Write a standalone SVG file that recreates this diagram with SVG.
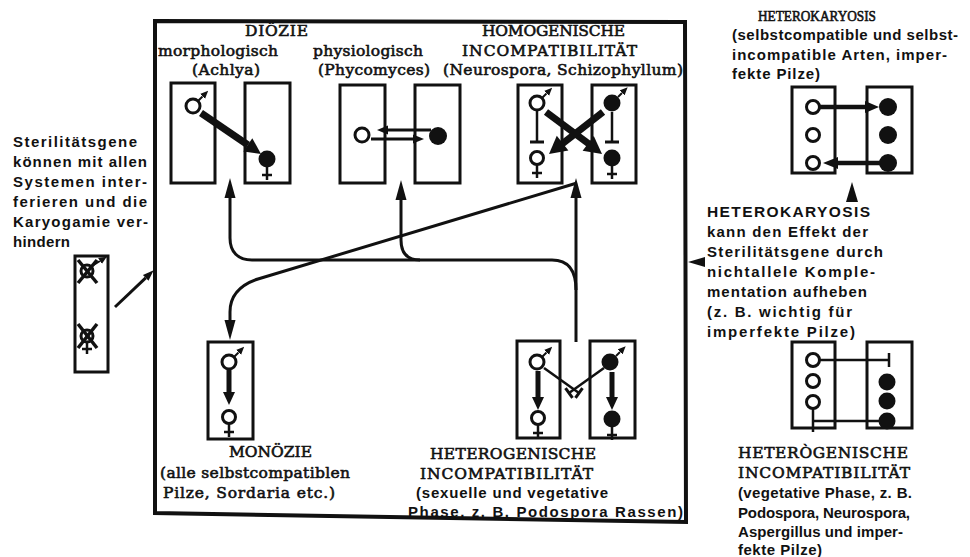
<svg xmlns="http://www.w3.org/2000/svg" width="970" height="557" viewBox="0 0 970 557">
  <style>
    .bg { fill: #ffffff; }
    .frame { fill: none; stroke: #111; stroke-width: 4; stroke-linejoin: miter; }
    .box { fill: none; stroke: #111; stroke-width: 3; }
    .ln { fill: none; stroke: #111; stroke-width: 3; stroke-linecap: butt; }
    .thin { fill: none; stroke: #111; stroke-width: 2.5; }
    .thick { fill: none; stroke: #111; stroke-width: 7; }
    .mid { fill: none; stroke: #111; stroke-width: 5; }
    .head { fill: #111; stroke: none; }
    .ring { fill: #fff; stroke: #111; stroke-width: 3; }
    .dot { fill: #111; stroke: none; }
    .conn { fill: none; stroke: #111; stroke-width: 3; stroke-linejoin: round; }
    .serif { font-family: "DejaVu Serif", "Liberation Serif", serif; font-size: 15.5px; fill: #111; stroke: #111; stroke-width: 0.6px; }
    .title-s { font-family: "Liberation Serif", "DejaVu Serif", serif; font-size: 15.5px; fill: #111; stroke: #111; stroke-width: 0.6px; }
    .type { font-family: "Liberation Sans", "DejaVu Sans", sans-serif; font-weight: bold; font-size: 15px; fill: #111; }
  </style>
  <defs>
    <!-- long connector arrowhead, drawn past the path end -->
    <marker id="ah" viewBox="0 -6 20 12" markerWidth="20" markerHeight="12" refX="0" refY="0" orient="auto" markerUnits="userSpaceOnUse">
      <path d="M0 -5.5 L20 0 L0 5.5 Z" fill="#111"/>
    </marker>
    <!-- small arrowhead for the mating-type symbols -->
    <marker id="ms" viewBox="0 -4 8 8" markerWidth="8" markerHeight="8" refX="0" refY="0" orient="auto" markerUnits="userSpaceOnUse">
      <path d="M0 -3.5 L8 0 L0 3.5 Z" fill="#111"/>
    </marker>
    <marker id="sm" viewBox="0 -5 11 10" markerWidth="11" markerHeight="10" refX="0" refY="0" orient="auto" markerUnits="userSpaceOnUse">
      <path d="M0 -4 L11 0 L0 4 Z" fill="#111"/>
    </marker>
    <!-- male, open -->
    <g id="mO">
      <line x1="5" y1="-5" x2="9.5" y2="-9.5" stroke="#111" stroke-width="2" marker-end="url(#ms)"/>
      <circle r="7" class="ring"/>
    </g>
    <!-- male, filled -->
    <g id="mF">
      <line x1="6" y1="-6" x2="10" y2="-10" stroke="#111" stroke-width="2" marker-end="url(#ms)"/>
      <circle r="8.5" class="dot"/>
    </g>
    <!-- female, open -->
    <g id="fO">
      <line x1="0" y1="6" x2="0" y2="20" stroke="#111" stroke-width="2.5"/>
      <line x1="-5" y1="15" x2="5" y2="15" stroke="#111" stroke-width="2.5"/>
      <circle r="6.5" class="ring"/>
    </g>
    <!-- female, filled -->
    <g id="fF">
      <line x1="0" y1="7" x2="0" y2="21" stroke="#111" stroke-width="2.5"/>
      <line x1="-5" y1="16" x2="5" y2="16" stroke="#111" stroke-width="2.5"/>
      <circle r="8.5" class="dot"/>
    </g>
  </defs>

  <rect class="bg" x="0" y="0" width="970" height="557"/>

  <!-- outer frame of the mating systems -->
  <polygon class="frame" points="155,21 685,22 686,522 155,513"/>

  <!-- Diözie, morphologisch (Achlya) -->
  <g id="dioezie-morph">
    <text class="serif" x="245" y="36" textLength="63">DIÖZIE</text>
    <text class="serif" x="158" y="56" textLength="120">morphologisch</text>
    <text class="serif" x="192" y="75" textLength="68">(Achlya)</text>
    <rect class="box" x="171" y="83" width="44" height="100"/>
    <rect class="box" x="245" y="83" width="45" height="100"/>
    <use href="#mO" x="193" y="106"/>
    <line class="thick" x1="201" y1="113" x2="248" y2="145"/>
    <polygon class="head" points="261,154 243.3,151.5 252.3,138.3"/>
    <use href="#fF" x="267" y="159"/>
  </g>

  <!-- Diözie, physiologisch (Phycomyces) -->
  <g id="dioezie-phys">
    <text class="serif" x="313" y="56" textLength="110">physiologisch</text>
    <text class="serif" x="318" y="75" textLength="112">(Phycomyces)</text>
    <rect class="box" x="340" y="85" width="45" height="98"/>
    <rect class="box" x="415" y="85" width="45" height="98"/>
    <circle class="ring" cx="362" cy="135" r="7"/>
    <circle class="dot" cx="438" cy="136" r="9"/>
    <line class="ln" x1="386" y1="130" x2="431" y2="130"/>
    <polygon class="head" points="377,130 388,125.5 388,134.5"/>
    <line class="ln" x1="371" y1="139" x2="414" y2="139"/>
    <polygon class="head" points="424,139 413,134.5 413,143.5"/>
  </g>

  <!-- homogenische Incompatibilität -->
  <g id="homogen">
    <text class="serif" x="482" y="36" textLength="143">HOMOGENISCHE</text>
    <text class="serif" x="462" y="56" textLength="175">INCOMPATIBILITÄT</text>
    <text class="serif" x="443" y="75" textLength="240">(Neurospora, Schizophyllum)</text>
    <rect class="box" x="518" y="85" width="44" height="98"/>
    <rect class="box" x="592" y="85" width="44" height="98"/>
    <line class="thin" x1="537" y1="110" x2="537" y2="142"/>
    <line class="ln" x1="530" y1="142" x2="544" y2="142"/>
    <line class="thin" x1="612" y1="112" x2="612" y2="142"/>
    <line class="ln" x1="605" y1="142" x2="619" y2="142"/>
    <use href="#mO" x="537" y="103"/>
    <use href="#mF" x="612" y="103"/>
    <use href="#fO" x="537" y="158"/>
    <use href="#fF" x="612" y="158"/>
    <line class="thick" x1="546" y1="112" x2="589" y2="144"/>
    <polygon class="head" points="602,154 582.6,150.8 593.8,136"/>
    <line class="thick" x1="603" y1="112" x2="562" y2="144"/>
    <polygon class="head" points="549,154 568.4,150.6 556.8,135.8"/>
  </g>

  <!-- Monözie -->
  <g id="monoezie">
    <rect class="box" x="208" y="342" width="45" height="97"/>
    <use href="#mO" x="229" y="362"/>
    <line class="mid" x1="229" y1="370" x2="229" y2="393"/>
    <polygon class="head" points="229,405 223,392 235,392"/>
    <use href="#fO" x="229" y="417"/>
    <text class="serif" x="229" y="457" textLength="83">MONÖZIE</text>
    <text class="serif" x="160" y="478" textLength="190">(alle selbstcompatiblen</text>
    <text class="serif" x="163" y="498" textLength="172">Pilze, Sordaria etc.)</text>
  </g>

  <!-- heterogenische Incompatibilität, sexuelle und vegetative Phase -->
  <g id="heterogen-sex">
    <rect class="box" x="517" y="341" width="43" height="97"/>
    <rect class="box" x="590" y="341" width="45" height="97"/>
    <line class="thin" x1="544" y1="368" x2="579" y2="393"/>
    <line class="ln" x1="575.5" y1="397.9" x2="582.5" y2="388.1"/>
    <line class="thin" x1="604" y1="368" x2="569" y2="393"/>
    <line class="ln" x1="572.5" y1="397.9" x2="565.5" y2="388.1"/>
    <use href="#mO" x="537" y="362"/>
    <use href="#mF" x="610" y="362"/>
    <line class="mid" x1="538" y1="371" x2="538" y2="398"/>
    <polygon class="head" points="538,410 532,397 544,397"/>
    <line class="mid" x1="612" y1="372" x2="612" y2="398"/>
    <polygon class="head" points="612,410 606,397 618,397"/>
    <use href="#fO" x="538" y="418"/>
    <use href="#fF" x="612" y="419"/>
    <text class="serif" x="430" y="459" textLength="166">HETEROGENISCHE</text>
    <text class="serif" x="420" y="479" textLength="173">INCOMPATIBILITÄT</text>
    <text class="type" x="416" y="498" textLength="192">(sexuelle und vegetative</text>
    <text class="type" x="408" y="517" textLength="275">Phase, z. B. Podospora Rassen)</text>
  </g>

  <!-- Sterilitätsgene -->
  <g id="sterilitaet">
    <text class="type" x="13" y="147" textLength="124">Sterilitätsgene</text>
    <text class="type" x="13" y="167" textLength="134">können mit allen</text>
    <text class="type" x="13" y="187" textLength="134">Systemen inter-</text>
    <text class="type" x="13" y="207" textLength="134">ferieren und die</text>
    <text class="type" x="13" y="227" textLength="135">Karyogamie ver-</text>
    <text class="type" x="13" y="247" textLength="57">hindern</text>
    <rect class="box" x="75" y="256" width="33" height="116"/>
    <line x1="92" y1="266" x2="100" y2="261" stroke="#111" stroke-width="2" marker-end="url(#ms)"/>
    <circle cx="87" cy="271" r="6" class="ring" stroke-width="2.5"/>
    <line x1="78" y1="260" x2="97" y2="283" stroke="#111" stroke-width="3.5"/>
    <line x1="97" y1="260" x2="78" y2="283" stroke="#111" stroke-width="3.5"/>
    <line x1="87" y1="342" x2="87" y2="354" stroke="#111" stroke-width="2.5"/>
    <line x1="82" y1="349" x2="92" y2="349" stroke="#111" stroke-width="2.5"/>
    <circle cx="87" cy="336" r="6" class="ring" stroke-width="2.5"/>
    <line x1="78" y1="324" x2="97" y2="348" stroke="#111" stroke-width="3.5"/>
    <line x1="97" y1="324" x2="78" y2="348" stroke="#111" stroke-width="3.5"/>
  </g>

  <!-- Heterokaryosis -->
  <g id="heterokaryosis">
    <text class="title-s" x="758" y="21" textLength="118" lengthAdjust="spacingAndGlyphs">HETEROKARYOSIS</text>
    <text class="type" x="732" y="40" textLength="226">(selbstcompatible und selbst-</text>
    <text class="type" x="732" y="60" textLength="215">incompatible Arten, imper-</text>
    <text class="type" x="732" y="79" textLength="88">fekte Pilze)</text>
    <rect class="box" x="792" y="87" width="43" height="86"/>
    <rect class="box" x="867" y="87" width="45" height="86"/>
    <circle class="ring" cx="813" cy="107" r="6.5"/>
    <circle class="ring" cx="813" cy="135" r="6.5"/>
    <circle class="ring" cx="813" cy="163" r="6.5"/>
    <circle class="dot" cx="888" cy="107" r="9"/>
    <circle class="dot" cx="888" cy="135" r="9"/>
    <circle class="dot" cx="888" cy="163" r="9"/>
    <line x1="820" y1="107" x2="866" y2="107" stroke="#111" stroke-width="4.5"/>
    <polygon class="head" points="879,107 865,101 865,113"/>
    <line x1="880" y1="163" x2="837" y2="163" stroke="#111" stroke-width="4.5"/>
    <polygon class="head" points="823,163 838,157 838,169"/>
  </g>

  <!-- Heterokaryosis hebt Sterilitätsgene auf -->
  <g id="komplementation">
    <polygon class="head" points="852,182 846,202 858,202"/>
    <polygon class="head" points="688,262 705,257 705,267"/>
    <text class="type" x="707" y="217" textLength="163" style="font-size:15.5px">HETEROKARYOSIS</text>
    <text class="type" x="707" y="237" textLength="161">kann den Effekt der</text>
    <text class="type" x="707" y="257" textLength="176">Sterilitätsgene durch</text>
    <text class="type" x="707" y="277" textLength="168">nichtallele Komple-</text>
    <text class="type" x="707" y="297" textLength="160">mentation aufheben</text>
    <text class="type" x="707" y="317" textLength="145">(z. B. wichtig für</text>
    <text class="type" x="707" y="337" textLength="148">imperfekte Pilze)</text>
  </g>

  <!-- heterogenische Incompatibilität, vegetative Phase -->
  <g id="heterogen-veg">
    <rect class="box" x="792" y="342" width="43" height="86"/>
    <rect class="box" x="867" y="342" width="45" height="86"/>
    <line class="thin" x1="819" y1="360" x2="889" y2="360"/>
    <line class="thin" x1="889" y1="353" x2="889" y2="367"/>
    <line class="thin" x1="813" y1="408" x2="813" y2="432"/>
    <line class="thin" x1="813" y1="421" x2="880" y2="421"/>
    <circle class="ring" cx="813" cy="360" r="6.5"/>
    <circle class="ring" cx="813" cy="381" r="6.5"/>
    <circle class="ring" cx="813" cy="402" r="6.5"/>
    <circle class="dot" cx="887" cy="382" r="8.5"/>
    <circle class="dot" cx="887" cy="401" r="8.5"/>
    <circle class="dot" cx="887" cy="421" r="8.5"/>
    <text class="serif" x="738" y="458" textLength="170">HETERÒGENISCHE</text>
    <text class="serif" x="738" y="478" textLength="172">INCOMPATIBILITÄT</text>
    <text class="type" x="738" y="498" textLength="174">(vegetative Phase, z. B.</text>
    <text class="type" x="738" y="518" textLength="172">Podospora, Neurospora,</text>
    <text class="type" x="738" y="537" textLength="165">Aspergillus und imper-</text>
    <text class="type" x="738" y="555" textLength="84">fekte Pilze)</text>
  </g>

  <!-- connectors -->
  <g id="connectors">
    <path class="conn" d="M576 290 C576 270 568 260 552 260 L252 260 C238 260 230 252 230 238 L230 198" marker-end="url(#ah)"/>
    <path class="conn" d="M420 260 C406 260 401 252 401 240 L401 200" marker-end="url(#ah)"/>
    <path class="conn" d="M576 342 L576 198" marker-end="url(#ah)"/>
    <path class="conn" d="M577 183 L258 279 C240 285 230 295 230 312 L230 320" marker-end="url(#ah)"/>
    <path class="conn" d="M115 307 L145.7 277.9" marker-end="url(#sm)"/>
  </g>
</svg>
